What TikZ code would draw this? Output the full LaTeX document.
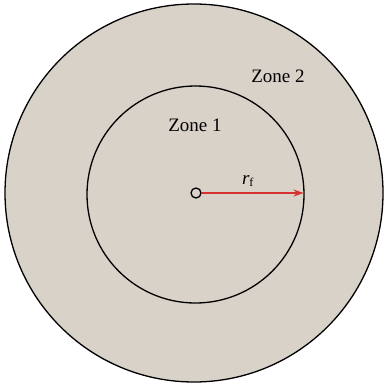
\documentclass[tikz,border=0pt]{standalone}
\usepackage{fontspec}
\setmainfont{Liberation Serif}
\usetikzlibrary{arrows.meta}
\definecolor{sand}{HTML}{D8D2C9}
\definecolor{arrowred}{HTML}{D63030}
\tikzset{
  ring/.style={draw=black, line width=1.3pt},
  zonelabel/.style={font=\fontsize{19}{19}\selectfont, inner sep=0pt}
}
\begin{document}
\begin{tikzpicture}[x=1pt,y=-1pt]
\useasboundingbox (0,0) rectangle (383,390);
\draw[ring, fill=sand] (194,193) circle (189);
\draw[ring] (195.5,194.5) circle (108.5);
\node[circle, draw=black, line width=1.3pt, minimum size=10pt, inner sep=0pt] (c) at (196,193) {};
\coordinate (e) at (303.5,193);
\draw[arrowred, line width=1.2pt, -{Stealth[length=10pt,width=7pt]}] (c) -- (e);
\node[zonelabel] (rf) at (248,181) {\textit{r}\textsubscript{\fontsize{12}{12}\selectfont f}};
\node[zonelabel] (z1) at (195,125) {Zone 1};
\node[zonelabel] (z2) at (278,76) {Zone 2};
\end{tikzpicture}
\end{document}
